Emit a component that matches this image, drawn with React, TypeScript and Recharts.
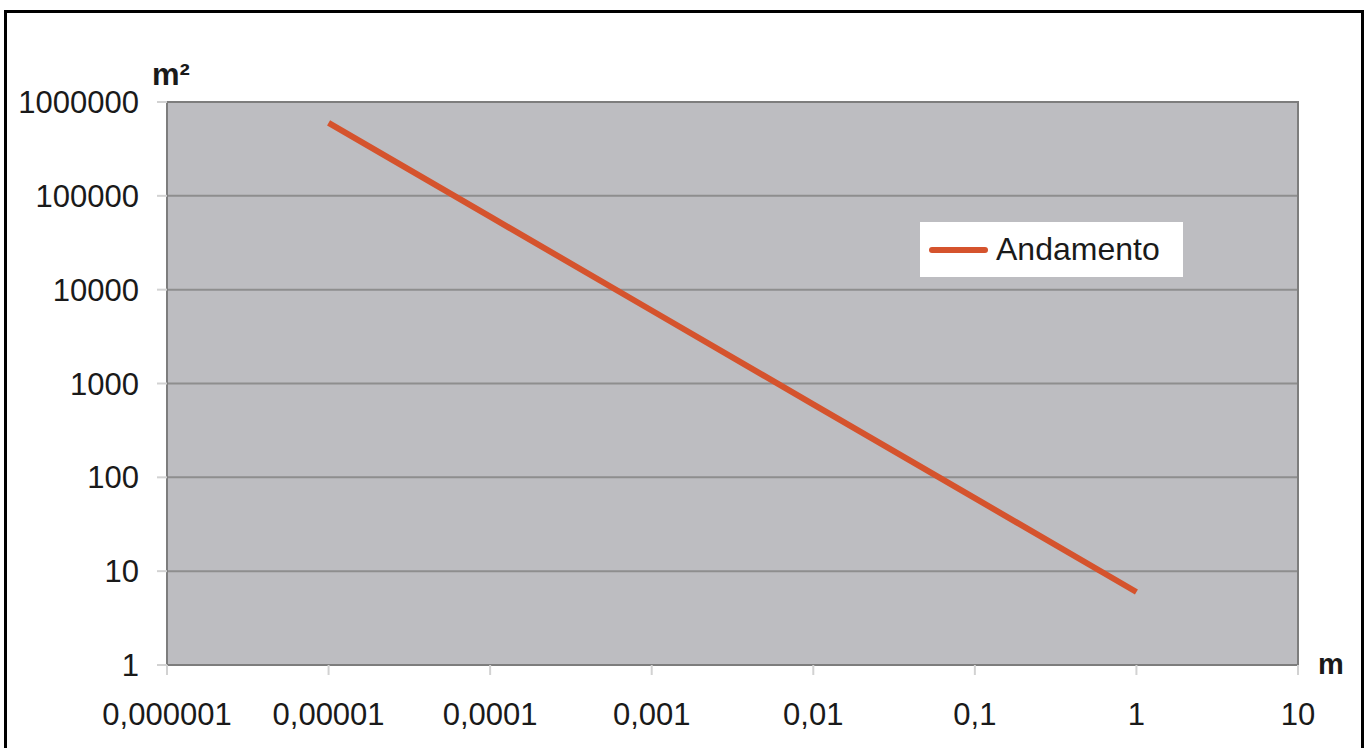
import { LineChart, Line, XAxis, YAxis, CartesianGrid, Legend, ReferenceArea, Label } from 'recharts';

// length (m) vs area (m²), log-log
const lengths = [0.00001, 0.0001, 0.001, 0.01, 0.1, 1];
const areas = [600000, 60000, 6000, 600, 60, 6];
const xTicks = [0.000001, 0.00001, 0.0001, 0.001, 0.01, 0.1, 1, 10];
const yTicks = [1, 10, 100, 1000, 10000, 100000, 1000000];
const seriesName = 'Andamento';

const data = lengths.map((x, i) => ({ x, area: areas[i] }));

const FONT = '"Liberation Sans", Arial, Helvetica, sans-serif';
const LINE_COLOR = '#d5532d';

// 0.0001 -> "0,0001"
const formatLength = (v: number) => {
  const decimals = Math.max(0, -Math.round(Math.log10(v)));
  return v.toFixed(decimals).replace('.', ',');
};

const renderYUnit = (props: any) => {
  const vb = props.viewBox || {};
  return (
    <text x={vb.x + vb.width - 15} y={vb.y - 17} fontFamily={FONT} fontWeight="bold" fontSize={31} fill="#1a1a1a">
      m²
    </text>
  );
};

const renderXUnit = (props: any) => {
  const vb = props.viewBox || {};
  return (
    <text x={vb.x + vb.width + 20} y={vb.y + 9} fontFamily={FONT} fontWeight="bold" fontSize={29} fill="#1a1a1a">
      m
    </text>
  );
};

const renderLegend = () => (
  <div
    style={{
      background: '#ffffff',
      width: 263,
      height: 55,
      display: 'flex',
      alignItems: 'center',
      boxSizing: 'border-box',
      paddingLeft: 9,
      fontFamily: FONT,
      fontSize: 32,
      color: '#1a1a1a',
    }}
  >
    <span style={{ display: 'inline-block', width: 59, height: 6, background: LINE_COLOR, borderRadius: 3, marginRight: 8 }} />
    {seriesName}
  </div>
);

export default function App() {
  return (
    <div style={{ position: 'fixed', left: 0, top: 0, width: 1364, height: 748, background: '#fff', overflow: 'hidden' }}>
      <div
        style={{
          position: 'absolute',
          left: 4,
          top: 10,
          width: 1354,
          height: 800,
          borderLeft: '3px solid #000',
          borderTop: '3px solid #000',
          borderRight: '3px solid #000',
        }}
      />
      <div style={{ position: 'absolute', left: 0, top: 0 }}>
        <LineChart width={1364} height={748} data={data} margin={{ top: 102, right: 66, bottom: 23, left: 67 }}>
          <CartesianGrid vertical={false} stroke="#8e8e8e" strokeWidth={2} fill="#bdbdc1" fillOpacity={1} />
          <ReferenceArea x1={0.000001} x2={10} y1={1} y2={1000000} fill="none" stroke="#7d7d7d" strokeWidth={2} />
          <XAxis
            dataKey="x"
            type="number"
            scale="log"
            domain={[0.000001, 10]}
            ticks={xTicks}
            tickFormatter={formatLength}
            interval={0}
            height={60}
            tickSize={10}
            tickMargin={28}
            tick={{ fill: '#1a1a1a', fontSize: 31, fontFamily: FONT }}
            tickLine={{ stroke: '#d2d2d2', strokeWidth: 2 }}
            axisLine={{ stroke: '#7d7d7d', strokeWidth: 2 }}
          >
            <Label content={renderXUnit} />
          </XAxis>
          <YAxis
            type="number"
            scale="log"
            domain={[1, 1000000]}
            ticks={yTicks}
            interval={0}
            width={100}
            tickSize={10}
            tickMargin={18}
            tick={{ fill: '#1a1a1a', fontSize: 31, fontFamily: FONT }}
            tickLine={{ stroke: '#d2d2d2', strokeWidth: 2 }}
            axisLine={{ stroke: '#7d7d7d', strokeWidth: 2 }}
          >
            <Label content={renderYUnit} />
          </YAxis>
          <Legend
            layout="vertical"
            align="center"
            verticalAlign="middle"
            content={renderLegend}
            wrapperStyle={{ left: 920, top: 222, width: 263 }}
          />
          <Line
            type="linear"
            dataKey="area"
            name={seriesName}
            stroke={LINE_COLOR}
            strokeWidth={6}
            dot={false}
            isAnimationActive={false}
          />
        </LineChart>
      </div>
    </div>
  );
}
